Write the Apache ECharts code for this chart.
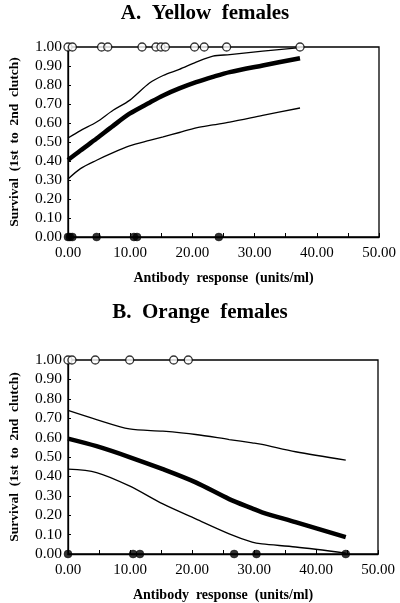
<!DOCTYPE html>
<html><head><meta charset="utf-8">
<script src="https://cdn.jsdelivr.net/npm/echarts@6/dist/echarts.min.js"></script>
<style>html,body{margin:0;padding:0;background:#fff}#c{width:400px;height:603px}</style>
</head><body><div id="c"></div>
<script>
// ---- Panel A: Yellow females ----
const titleA = 'A.  Yellow  females';
const aCurveX = [0, 2.0, 4.6, 7.25, 9.9, 13.1, 15.3, 17.9, 20.6, 23.3, 26.0, 31.3, 37.3];
const aFit    = [0.405, 0.455, 0.518, 0.585, 0.649, 0.707, 0.745, 0.782, 0.815, 0.843, 0.868, 0.903, 0.941];
const aUpper  = [0.521, 0.56, 0.605, 0.667, 0.719, 0.81, 0.85, 0.882, 0.92, 0.952, 0.96, 0.978, 0.997];
const aLower  = [0.305, 0.36, 0.404, 0.444, 0.479, 0.508, 0.527, 0.55, 0.574, 0.59, 0.605, 0.64, 0.679];
const aSurvivedX = [0.0, 0.7, 5.4, 6.4, 11.9, 14.15, 14.95, 15.65, 20.35, 21.9, 25.5, 37.3];
const aDiedX = [0.0, 0.3, 0.7, 4.6, 10.6, 11.1, 24.25];

// ---- Panel B: Orange females ----
const titleB = 'B.  Orange  females';
const bCurveX = [0, 4.6, 9.9, 15.3, 20.6, 26.0, 29.7, 31.3, 36.7, 44.8];
const bFit    = [0.595, 0.556, 0.50, 0.437, 0.369, 0.283, 0.235, 0.215, 0.164, 0.087];
const bUpper  = [0.74, 0.693, 0.645, 0.633, 0.616, 0.59, 0.573, 0.565, 0.527, 0.484];
const bLower  = [0.437, 0.42, 0.351, 0.258, 0.181, 0.104, 0.061, 0.052, 0.036, 0.005];
const bSurvivedX = [0.0, 0.64, 4.4, 9.95, 17.05, 19.4];
const bDiedX = [0.0, 10.5, 11.6, 26.8, 30.4, 44.8];

const xName = 'Antibody  response  (units/ml)';
const yName = 'Survival  (1st  to  2nd  clutch)';

const FONT = 'Liberation Serif';
const pair = (xs, ys) => xs.map((x, i) => [x, ys[i]]);
const atY = (xs, y) => xs.map(x => [x, y]);

function xAxis(gi) {
  return {
    gridIndex: gi, type: 'value', min: 0, max: 50, interval: 10,
    name: xName, nameLocation: 'middle', nameGap: 34,
    nameTextStyle: {fontFamily: FONT, fontWeight: 'bold', fontSize: 14, color: '#000'},
    axisLine: {show: true, onZero: false, lineStyle: {color: '#000', width: 1.3}},
    axisTick: {show: true, inside: true, length: 4, lineStyle: {color: '#000', width: 1}},
    minorTick: {show: true, splitNumber: 2, length: 4, lineStyle: {color: '#000', width: 1}},
    axisLabel: {fontFamily: FONT, fontSize: 15, color: '#000', margin: 9,
      formatter: v => v.toFixed(2)},
    splitLine: {show: false}
  };
}
function yAxis(gi) {
  return {
    gridIndex: gi, type: 'value', min: 0, max: 1, interval: 0.1,
    name: yName, nameLocation: 'middle', nameGap: 46, nameRotate: 90,
    nameTextStyle: {fontFamily: FONT, fontWeight: 'bold', fontSize: 13.5, color: '#000'},
    axisLine: {show: true, onZero: false, lineStyle: {color: '#000', width: 1.3}},
    axisTick: {show: true, inside: true, length: 3, lineStyle: {color: '#000', width: 1}},
    axisLabel: {fontFamily: FONT, fontSize: 15.5, color: '#000', margin: 6,
      formatter: v => v.toFixed(2)},
    splitLine: {show: false}
  };
}
function lineS(gi, data, w) {
  return {type: 'line', xAxisIndex: gi, yAxisIndex: gi, data, smooth: 0.3,
    showSymbol: false, symbol: 'none', lineStyle: {color: '#000', width: w}, z: 3, silent: true};
}
function ptsS(gi, data, open) {
  return {type: 'scatter', xAxisIndex: gi, yAxisIndex: gi, data, symbol: 'circle', symbolSize: 8,
    clip: false, z: 5, silent: true,
    itemStyle: open ? {color: '#fff', borderColor: '#000', borderWidth: 1.3}
                    : {color: '#000', borderColor: '#000', borderWidth: 0.5}};
}

const chart = echarts.init(document.getElementById('c'), null, {renderer: 'canvas'});
chart.setOption({
  animation: false,
  backgroundColor: '#fff',
  graphic: [
    {type: 'text', x: 205, y: 14, style: {text: titleA, fontFamily: FONT, fontWeight: 'bold', fontSize: 21, fill: '#000', textAlign: 'center', textVerticalAlign: 'middle'}},
    {type: 'text', x: 200, y: 313, style: {text: titleB, fontFamily: FONT, fontWeight: 'bold', fontSize: 21, fill: '#000', textAlign: 'center', textVerticalAlign: 'middle'}}
  ],
  grid: [
    {left: 67, right: 21, top: 47, height: 190, show: true, borderColor: '#000', borderWidth: 1.3, backgroundColor: 'transparent'},
    {left: 67, right: 22, top: 360, height: 195, show: true, borderColor: '#000', borderWidth: 1.3, backgroundColor: 'transparent'}
  ],
  xAxis: [xAxis(0), xAxis(1)],
  yAxis: [yAxis(0), yAxis(1)],
  series: [
    lineS(0, pair(aCurveX, aUpper), 1.3),
    lineS(0, pair(aCurveX, aLower), 1.3),
    lineS(0, pair(aCurveX, aFit), 4.5),
    ptsS(0, atY(aSurvivedX, 1), true),
    ptsS(0, atY(aDiedX, 0), false),
    lineS(1, pair(bCurveX, bUpper), 1.3),
    lineS(1, pair(bCurveX, bLower), 1.3),
    lineS(1, pair(bCurveX, bFit), 4.5),
    ptsS(1, atY(bSurvivedX, 1), true),
    ptsS(1, atY(bDiedX, 0), false)
  ]
});
</script></body></html>
